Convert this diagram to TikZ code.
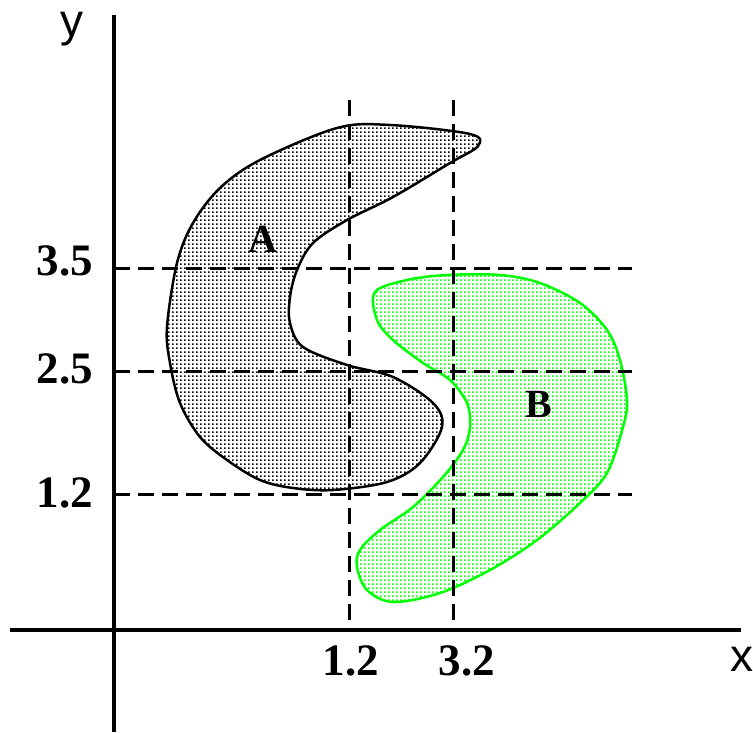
\documentclass[tikz,border=0pt]{standalone}
\usepackage{fontspec}
\setmainfont{Liberation Serif}
\setsansfont{Liberation Sans}
\usetikzlibrary{patterns}
\definecolor{regiongreen}{RGB}{0,255,0}
\pgfdeclarepatternformonly{pixdots}{\pgfpointorigin}{\pgfpoint{4pt}{4pt}}{\pgfpoint{4pt}{4pt}}{%
  \pgfpathrectangle{\pgfpointorigin}{\pgfpoint{2pt}{2pt}}\pgfusepath{fill}}
\tikzset{
  axisline/.style={draw=black,line width=3.5pt},
  gridline/.style={draw=black,line width=3pt,dash pattern=on 16pt off 8pt},
  numlabel/.style={font=\fontsize{45}{45}\selectfont\bfseries,inner sep=0pt,anchor=base},
  axislabel/.style={font=\sffamily\fontsize{46}{46}\selectfont,inner sep=0pt,anchor=base},
  regionlabel/.style={font=\fontsize{40}{40}\selectfont\bfseries,inner sep=0pt,anchor=base}
}

\begin{document}
\begin{tikzpicture}[x=1pt,y=-1pt]
\useasboundingbox (0,0) rectangle (753,732);
% objects at depth 100:
\path[draw=black,line width=2.5pt,pattern=pixdots,pattern color=black]
  plot[smooth cycle,tension=0.55] coordinates {
  (478,146) (450,163) (393,197) (347,220) (313,243) (297,270) (290,297)
  (290,323) (303,347) (347,365) (393,377) (433,403) (442,427) (420,463)
  (387,482) (333,490) (293,488) (260,480) (227,460) (200,437) (180,403)
  (170,363) (167,327) (177,263) (193,223) (220,188) (260,160) (337,128)
  (390,125) (470,134)};
\path[draw=regiongreen,line width=2.5pt,pattern=pixdots,pattern color=regiongreen]
  plot[smooth cycle,tension=0.55] coordinates {
  (375,292) (377,320) (393,340) (423,363) (450,380) (467,403) (470,427)
  (463,450) (443,477) (413,507) (380,530) (360,550) (357,567) (367,590)
  (393,602) (440,593) (490,570) (537,540) (580,503) (607,473) (623,427)
  (627,400) (620,360) (607,330) (580,303) (540,283) (500,275) (447,275)
  (407,280)};
% objects at depth 50:
\coordinate (ytop) at (114,15);
\coordinate (ybot) at (114,732);
\coordinate (xleft) at (10,630);
\coordinate (xright) at (741,630);
\coordinate (v1top) at (349,100);
\coordinate (v1bot) at (349,630);
\coordinate (v2top) at (453,100);
\coordinate (v2bot) at (453,630);
\coordinate (h1l) at (114,268);
\coordinate (h1r) at (632,268);
\coordinate (h2l) at (114,371);
\coordinate (h2r) at (632,371);
\coordinate (h3l) at (114,494);
\coordinate (h3r) at (632,494);
\path[gridline] (v1top) -- (v1bot);
\path[gridline] (v2top) -- (v2bot);
\path[gridline] (h1l) -- (h1r);
\path[gridline] (h2l) -- (h2r);
\path[gridline] (h3l) -- (h3r);
\path[axisline] (ytop) -- (ybot);
\path[axisline] (xleft) -- (xright);
% objects at depth 0:
\node[axislabel] (ylab) at (72,36) {y};
\node[axislabel] (xlab) at (742,671) {x};
\node[numlabel] (y35) at (65,275) {3.5};
\node[numlabel] (y25) at (65,383) {2.5};
\node[numlabel] (y12) at (65,507) {1.2};
\node[numlabel] (x12) at (351,675) {1.2};
\node[numlabel] (x32) at (467,675) {3.2};
\node[regionlabel] (alab) at (263,252) {A};
\node[regionlabel] (blab) at (539,417) {B};
\end{tikzpicture}
\end{document}
